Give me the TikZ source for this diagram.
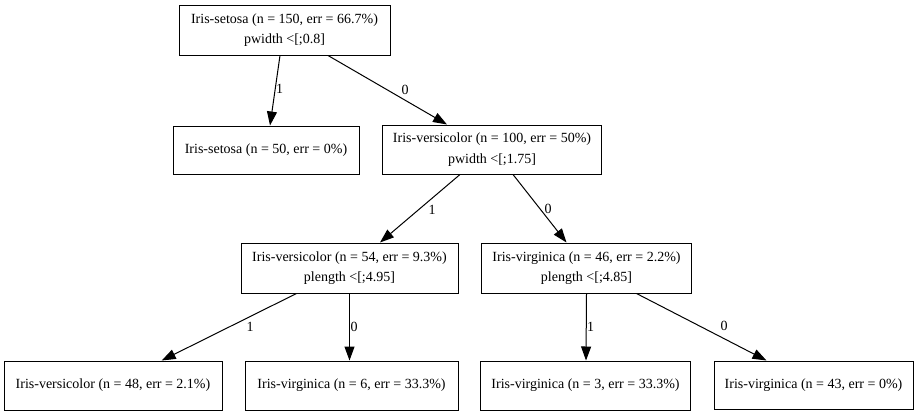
\documentclass[tikz,border=0pt]{standalone}
\usepackage{fontspec}
\setmainfont{Liberation Serif}
\usetikzlibrary{arrows.meta}
\begin{document}
\begin{tikzpicture}[x=1pt,y=-1pt,
  tnode/.style={draw, line width=1pt, inner sep=0pt, align=center,
    font=\fontsize{14}{20.5}\selectfont},
  edge/.style={draw, line width=1pt, -{Triangle[length=14pt,width=10pt]}},
  lbl/.style={inner sep=0pt, font=\fontsize{14}{16}\selectfont}]
\useasboundingbox (0,0) rectangle (920,415);
\node[tnode, minimum width=211pt, minimum height=50pt] (root) at (284.5,30) {Iris-setosa (n = 150, err = 66.7\%)\\pwidth <[;0.8]};
\node[tnode, minimum width=186pt, minimum height=48pt] (setosa) at (266,150) {Iris-setosa (n = 50, err = 0\%)};
\node[tnode, minimum width=219pt, minimum height=49pt] (vers100) at (492,149.5) {Iris-versicolor (n = 100, err = 50\%)\\pwidth <[;1.75]};
\node[tnode, minimum width=217pt, minimum height=50pt] (vers54) at (349.5,268) {Iris-versicolor (n = 54, err = 9.3\%)\\plength <[;4.95]};
\node[tnode, minimum width=210pt, minimum height=50pt] (virg46) at (586.5,268) {Iris-virginica (n = 46, err = 2.2\%)\\plength <[;4.85]};
\node[tnode, minimum width=218pt, minimum height=49pt] (leaf1) at (113,385.5) {Iris-versicolor (n = 48, err = 2.1\%)};
\node[tnode, minimum width=213pt, minimum height=49pt] (virg6) at (351.5,385.5) {Iris-virginica (n = 6, err = 33.3\%)};
\node[tnode, minimum width=210pt, minimum height=49pt] (virg3) at (585.5,385.5) {Iris-virginica (n = 3, err = 33.3\%)};
\node[tnode, minimum width=199pt, minimum height=48pt] (virg43) at (813.5,385) {Iris-virginica (n = 43, err = 0\%)};

\draw[edge] ([xshift=-4.5pt]root.south) -- ([xshift=4pt]setosa.north) node[lbl] at (279.5,89) {1};
\draw[edge] ([xshift=43.5pt]root.south) -- ([xshift=-45pt]vers100.north) node[lbl] at (405,90) {0};
\draw[edge] ([xshift=-32pt]vers100.south) -- ([xshift=30.5pt]vers54.north) node[lbl] at (432,210) {1};
\draw[edge] ([xshift=21pt]vers100.south) -- ([xshift=-20pt]virg46.north) node[lbl] at (548,209) {0};
\draw[edge] ([xshift=-53pt]vers54.south) -- ([xshift=48.7pt]leaf1.north) node[lbl] at (250,327) {1};
\draw[edge] (vers54.south) -- ([xshift=-2pt]virg6.north) node[lbl] at (354,327) {0};
\draw[edge] (virg46.south) -- ([xshift=0.5pt]virg3.north) node[lbl] at (590.5,327) {1};
\draw[edge] ([xshift=50pt]virg46.south) -- ([xshift=-47pt]virg43.north) node[lbl] at (724,326) {0};
\end{tikzpicture}
\end{document}
